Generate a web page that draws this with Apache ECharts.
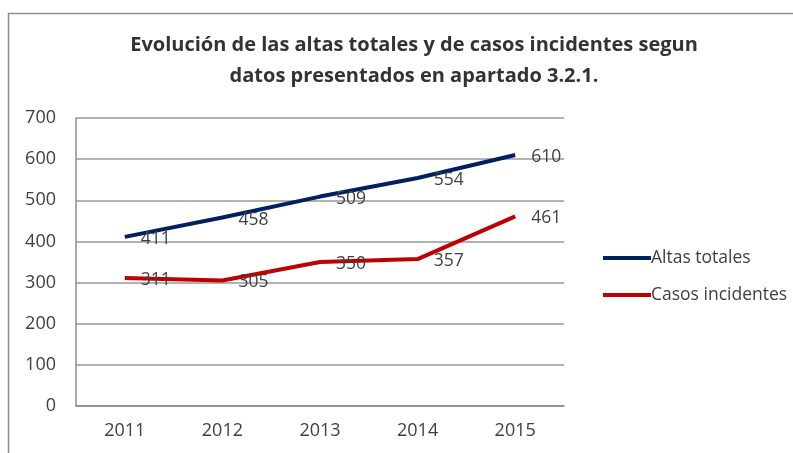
<!DOCTYPE html>
<html>
<head>
<meta charset="utf-8">
<script src="https://cdn.jsdelivr.net/npm/echarts@6/dist/echarts.min.js"></script>
<style>
  html, body { margin: 0; padding: 0; background: #fff; }
  #chart { width: 793px; height: 453px; }
</style>
</head>
<body>
<div id="chart"></div>
<script>
// datos
var years = ['2011', '2012', '2013', '2014', '2015'];
var altasTotales = [411, 458, 509, 554, 610];
var casosIncidentes = [311, 305, 350, 357, 461];
var yTicks = [0, 100, 200, 300, 400, 500, 600, 700];

var chart = echarts.init(document.getElementById('chart'));
var fontFam = '"Open Sans", sans-serif';

var labelStyle = {
    show: true,
    position: 'right',
    distance: 16,
    offset: [0, 2],
    fontSize: 17.5,
    fontFamily: fontFam,
    color: '#404040'
};

var option = {
    animation: false,
    title: {
        text: 'Evolución de las altas totales y de casos incidentes segun\ndatos presentados en apartado 3.2.1.',
        left: 409,
        top: 25,
        textAlign: 'center',
        textStyle: {
            fontSize: 20,
            fontWeight: 'bold',
            fontFamily: fontFam,
            color: '#333',
            lineHeight: 31
        }
    },
    graphic: [{
        type: 'rect',
        shape: { x: 8.5, y: 13.5, width: 900, height: 600 },
        style: { fill: 'none', stroke: '#8c8c8c', lineWidth: 1.5 },
        silent: true
    }],
    legend: {
        orient: 'vertical',
        left: 598,
        top: 244,
        itemWidth: 48,
        itemHeight: 4,
        itemGap: 19,
        icon: 'rect',
        textStyle: { fontSize: 17.5, fontFamily: fontFam, color: '#404040', padding: [0, 0, 0, -5] },
        data: ['Altas totales', 'Casos incidentes']
    },
    grid: { left: 76, top: 118, width: 488, height: 288 },
    xAxis: {
        type: 'category',
        data: years,
        boundaryGap: true,
        axisLine: { lineStyle: { color: '#8c8c8c', width: 1.5 } },
        axisTick: { show: false },
        axisLabel: { fontSize: 18, fontFamily: fontFam, color: '#404040', margin: 16 }
    },
    yAxis: {
        type: 'value',
        min: yTicks[0],
        max: yTicks[yTicks.length - 1],
        interval: 100,
        axisLine: { show: true, lineStyle: { color: '#8c8c8c', width: 1.5 } },
        axisTick: { show: false },
        splitLine: { lineStyle: { color: '#999', width: 1.5 } },
        axisLabel: { fontSize: 18, fontFamily: fontFam, color: '#404040', margin: 20 }
    },
    series: [
        {
            name: 'Altas totales',
            type: 'line',
            data: altasTotales,
            symbol: 'circle',
            symbolSize: 0.1,
            lineStyle: { width: 4, color: '#002060' },
            itemStyle: { color: '#002060' },
            label: labelStyle
        },
        {
            name: 'Casos incidentes',
            type: 'line',
            data: casosIncidentes,
            symbol: 'circle',
            symbolSize: 0.1,
            lineStyle: { width: 4, color: '#c00000' },
            itemStyle: { color: '#c00000' },
            label: labelStyle
        }
    ]
};

chart.setOption(option);
</script>
</body>
</html>
